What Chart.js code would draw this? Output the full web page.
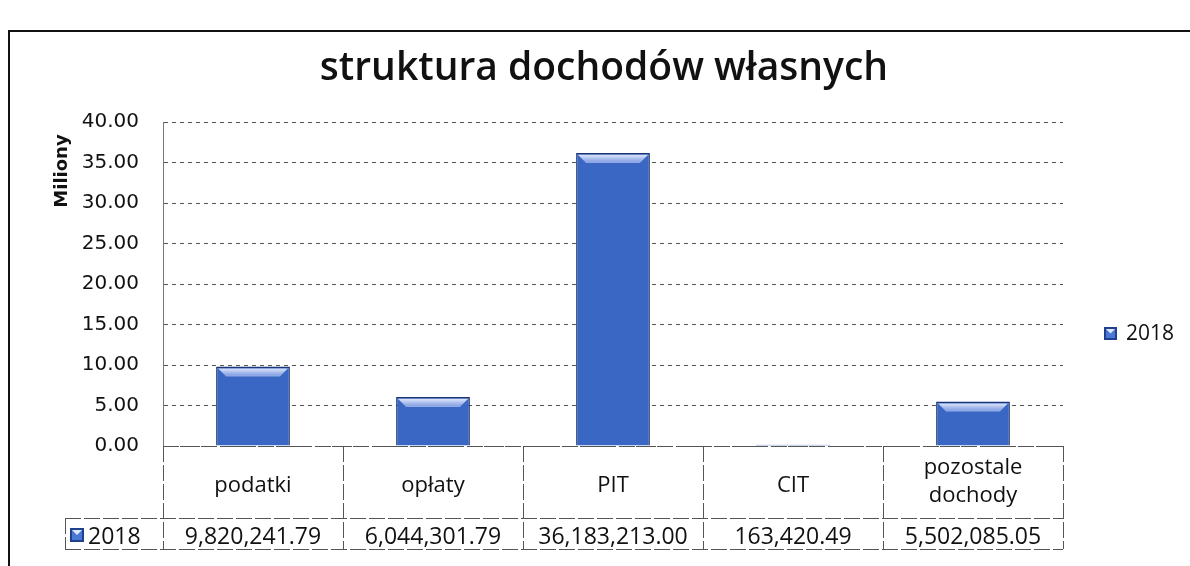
<!DOCTYPE html>
<html>
<head>
<meta charset="utf-8">
<script src="https://cdn.jsdelivr.net/npm/chart.js@4"></script>
<style>
  html, body { margin: 0; padding: 0; background: #fff; }
  #wrap { width: 1190px; height: 566px; }
</style>
</head>
<body>
<div id="wrap"><canvas id="chart" width="1190" height="566"></canvas></div>
<script>
// data
const categories = ['podatki', 'opłaty', 'PIT', 'CIT', ['pozostale', 'dochody']];
const seriesLabel = '2018';
const values2018 = [9820241.79, 6044301.79, 36183213.00, 163420.49, 5502085.05];
const yMin = 0, yMax = 40, yStep = 5;   // Miliony

const chartTitle = 'struktura dochodów własnych';
const unitLabel = 'Miliony';

const barFill = '#3a67c4';
const barEdge = '#1a3679';
const lineCol = '#555';

function fmtValue(v) {
    return v.toLocaleString('en-US', { minimumFractionDigits: 2, maximumFractionDigits: 2 });
}

function drawKey(ctx, x, y, s) {
    ctx.fillStyle = '#1f3f8f';
    ctx.fillRect(x, y, s, s);
    ctx.fillStyle = '#4a78d4';
    ctx.fillRect(x + 2, y + 2, s - 4, s - 4);
    ctx.fillStyle = '#dfe8fb';
    ctx.beginPath();
    ctx.moveTo(x + 2, y + 2);
    ctx.lineTo(x + s - 2, y + 2);
    ctx.lineTo(x + s / 2, y + s / 2);
    ctx.closePath();
    ctx.fill();
}

const decor = {
    id: 'decor',
    afterDatasetsDraw(chart) {
        // bevel on top of each bar
        const ctx = chart.ctx;
        chart.getDatasetMeta(0).data.forEach(bar => {
            const l = bar.x - bar.width / 2, r = bar.x + bar.width / 2, t = bar.y;
            const h = Math.min(8, (bar.base - t) / 2);
            if (h < 2) return;
            const g = ctx.createLinearGradient(0, t, 0, t + h);
            g.addColorStop(0, '#f4f7ff');
            g.addColorStop(1, '#8fa9e6');
            ctx.save();
            ctx.fillStyle = g;
            ctx.beginPath();
            ctx.moveTo(l + 2, t + 2);
            ctx.lineTo(r - 2, t + 2);
            ctx.lineTo(r - 2 - h, t + h + 2);
            ctx.lineTo(l + 2 + h, t + h + 2);
            ctx.closePath();
            ctx.fill();
            ctx.restore();
        });
    },
    afterDraw(chart) {
        const ctx = chart.ctx;
        const ca = chart.chartArea;
        const xs = chart.scales.x;
        ctx.save();

        // outer frame (left + top)
        ctx.strokeStyle = '#111';
        ctx.lineWidth = 2;
        ctx.beginPath();
        ctx.moveTo(9, 566);
        ctx.lineTo(9, 31);
        ctx.lineTo(1190, 31);
        ctx.stroke();

        // title
        ctx.fillStyle = '#111';
        ctx.font = '600 39px "Open Sans"';
        ctx.textAlign = 'center';
        ctx.textBaseline = 'alphabetic';
        ctx.fillText(chartTitle, 604, 80);

        // unit label
        ctx.save();
        ctx.translate(62, 171);
        ctx.rotate(-Math.PI / 2);
        ctx.textBaseline = 'middle';
        ctx.font = 'bold 18px "DejaVu Sans"';
        ctx.fillText(unitLabel, 0, 0);
        ctx.restore();

        // legend on the right
        drawKey(ctx, 1104, 327, 13);
        ctx.font = '21px "Open Sans"';
        ctx.textAlign = 'left';
        ctx.fillStyle = '#111';
        ctx.fillText(seriesLabel, 1126, 340);

        // data table
        const top = ca.bottom, mid = 518, bot = 549;
        const half = (xs.getPixelForValue(1) - xs.getPixelForValue(0)) / 2;
        const left = xs.getPixelForValue(0) - half;
        const right = xs.getPixelForValue(categories.length - 1) + half;
        ctx.strokeStyle = lineCol;
        ctx.lineWidth = 1;
        ctx.setLineDash([16, 3]);
        ctx.beginPath();
        ctx.moveTo(left, top + 0.5); ctx.lineTo(right, top + 0.5);
        ctx.moveTo(65, mid + 0.5); ctx.lineTo(right, mid + 0.5);
        ctx.moveTo(65, bot + 0.5); ctx.lineTo(right, bot + 0.5);
        ctx.moveTo(65.5, mid); ctx.lineTo(65.5, bot);
        for (let i = 0; i <= categories.length; i++) {
            const x = Math.round(left + i * half * 2) + 0.5;
            ctx.moveTo(x, top); ctx.lineTo(x, bot);
        }
        ctx.stroke();
        ctx.setLineDash([]);

        ctx.fillStyle = '#111';
        ctx.textAlign = 'center';
        ctx.textBaseline = 'alphabetic';
        categories.forEach((c, i) => {
            const x = xs.getPixelForValue(i);
            ctx.font = '22px "Open Sans"';
            if (Array.isArray(c)) {
                ctx.fillText(c[0], x, 474);
                ctx.fillText(c[1], x, 502);
            } else {
                ctx.fillText(c, x, 492);
            }
            ctx.font = '23px "Open Sans"';
            ctx.fillText(fmtValue(values2018[i]), x, 544);
        });

        // row header
        drawKey(ctx, 70, 528, 14);
        ctx.fillStyle = '#111';
        ctx.font = '23px "Open Sans"';
        ctx.textAlign = 'left';
        ctx.fillText(seriesLabel, 88, 544);

        ctx.restore();
    }
};

new Chart(document.getElementById('chart'), {
    type: 'bar',
    data: {
        labels: categories,
        datasets: [{
            label: seriesLabel,
            data: values2018.map(v => v / 1e6),
            backgroundColor: barFill,
            borderColor: barEdge,
            borderWidth: 1.5,
            barPercentage: 0.41,
            categoryPercentage: 1
        }]
    },
    options: {
        responsive: false,
        animation: false,
        devicePixelRatio: 1,
        layout: { padding: { left: 0, right: 127, top: 122, bottom: 120 } },
        plugins: {
            legend: { display: false },
            title: { display: false },
            tooltip: { enabled: false }
        },
        scales: {
            x: {
                display: false,
                grid: { display: false }
            },
            y: {
                min: yMin,
                max: yMax,
                afterFit(scale) { scale.width = 163; },
                ticks: {
                    stepSize: yStep,
                    padding: 24,
                    color: '#111',
                    font: { family: 'DejaVu Sans', size: 20 },
                    callback: v => v.toFixed(2)
                },
                grid: {
                    color: lineCol,
                    drawTicks: false
                },
                border: {
                    display: true,
                    color: '#777',
                    dash: [4, 4]
                }
            }
        }
    },
    plugins: [decor]
});
</script>
</body>
</html>
